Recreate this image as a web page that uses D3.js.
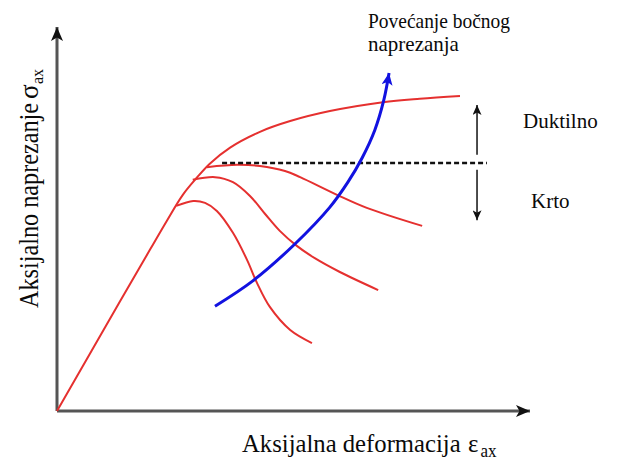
<!DOCTYPE html>
<html>
<head>
<meta charset="utf-8">
<script src="https://cdn.jsdelivr.net/npm/d3@7"></script>
<style>
  body { margin: 0; background: #fff; }
  text { font-family: "Liberation Serif", "Times New Roman", serif; fill: #0a0a0a; }
</style>
</head>
<body>
<svg width="627" height="463"></svg>
<script>
const svg = d3.select('svg');

// axial strain (x) vs axial stress (y), arbitrary units 0..10
const envelope = [[0, 0], [1.33, 2.85], [1.97, 4.21], [2.33, 4.97], [2.66, 5.63], [2.96, 6.08],
    [3.23, 6.44], [3.66, 6.86], [4.29, 7.27], [4.93, 7.55], [5.77, 7.81], [6.89, 8.04],
    [7.67, 8.13], [8.52, 8.20]];
const branchTop = [[3.17, 6.35], [3.81, 6.41], [4.29, 6.38], [4.82, 6.25], [5.14, 6.09],
    [5.92, 5.63], [6.55, 5.29], [7.72, 4.82]];
const branchMid = [[2.87, 6.02], [3.34, 6.09], [3.72, 5.96], [4.08, 5.60], [4.40, 5.13],
    [4.71, 4.69], [5.07, 4.30], [5.45, 3.98], [5.98, 3.62], [6.79, 3.15]];
const branchLow = [[2.52, 5.34], [2.88, 5.47], [3.13, 5.42], [3.38, 5.21], [3.72, 4.64],
    [4.02, 3.93], [4.23, 3.33], [4.50, 2.71], [4.93, 2.11], [5.39, 1.77]];
const confining = [[3.34, 2.73], [4.14, 3.39], [5.03, 4.35], [5.77, 5.31], [6.15, 5.96],
    [6.45, 6.59], [6.72, 7.32], [6.91, 8.10], [7.02, 8.80]];
const transitionLevel = 6.46;
const transitionFrom = [3.49, 9.09];
const arrowX = 8.88;
const ductileArrow = [6.67, 7.97];
const brittleArrow = [6.28, 4.97];

const x = d3.scaleLinear().domain([0, 10]).range([57, 530]);
const y = d3.scaleLinear().domain([0, 10]).range([411, 27]);

const defs = svg.append('defs');
const marker = (id, color, w, h) => defs.append('marker')
    .attr('id', id)
    .attr('viewBox', `0 ${-h / 2} ${w} ${h}`)
    .attr('refX', w).attr('refY', 0)
    .attr('markerWidth', w).attr('markerHeight', h)
    .attr('markerUnits', 'userSpaceOnUse')
    .attr('orient', 'auto')
  .append('path')
    .attr('d', `M0,${-h / 2}L${w},0L0,${h / 2}L${w * 0.25},0Z`)
    .attr('fill', color);

marker('axisHead', '#111', 14, 12);
marker('smallHead', '#111', 10, 9);
marker('blueHead', '#1212e0', 12, 11);

// axes
svg.append('line')
    .attr('x1', x(0)).attr('y1', y(0)).attr('x2', x(0)).attr('y2', y(10))
    .attr('stroke', '#555').attr('stroke-width', 3)
    .attr('marker-end', 'url(#axisHead)');
svg.append('line')
    .attr('x1', x(0)).attr('y1', y(0)).attr('x2', x(10)).attr('y2', y(0))
    .attr('stroke', '#555').attr('stroke-width', 3)
    .attr('marker-end', 'url(#axisHead)');

const line = d3.line()
    .x(d => x(d[0]))
    .y(d => y(d[1]))
    .curve(d3.curveCatmullRom.alpha(0.5));

svg.selectAll('path.red')
    .data([envelope, branchTop, branchMid, branchLow])
    .enter().append('path')
        .attr('class', 'red')
        .attr('d', line)
        .attr('fill', 'none')
        .attr('stroke', '#e5302f')
        .attr('stroke-width', 2);

// brittle / ductile transition
svg.append('line')
    .attr('x1', x(transitionFrom[0])).attr('x2', x(transitionFrom[1]))
    .attr('y1', y(transitionLevel)).attr('y2', y(transitionLevel))
    .attr('stroke', '#111').attr('stroke-width', 2.5)
    .attr('stroke-dasharray', '5,3');

svg.append('path')
    .attr('d', line(confining))
    .attr('fill', 'none')
    .attr('stroke', '#1212e0')
    .attr('stroke-width', 3)
    .attr('marker-end', 'url(#blueHead)');

[ductileArrow, brittleArrow].forEach(a => {
    svg.append('line')
        .attr('x1', x(arrowX)).attr('x2', x(arrowX))
        .attr('y1', y(a[0])).attr('y2', y(a[1]))
        .attr('stroke', '#111').attr('stroke-width', 1.5)
        .attr('marker-end', 'url(#smallHead)');
});

// labels
const label = (txt, px, py, size, len) => {
    const t = svg.append('text')
        .attr('x', px).attr('y', py)
        .attr('font-size', size)
        .text(txt);
    if (len) t.attr('textLength', len).attr('lengthAdjust', 'spacingAndGlyphs');
    return t;
};

label('Povećanje bočnog', 368, 28, 21, 142);
label('naprezanja', 368, 51, 21);
label('Duktilno', 523, 128, 21);
label('Krto', 531, 208, 21);

// x axis title, narrowed like the original
const xl = svg.append('g').attr('transform', 'translate(242,452) scale(0.95,1)')
  .append('text').attr('font-size', 26);
xl.append('tspan').text('Aksijalna deformacija');
xl.append('tspan').attr('x', 238).text('ε');
xl.append('tspan').attr('x', 251).attr('dy', 5).attr('font-size', 18).text('ax');

const yl = svg.append('g').attr('transform', 'translate(38,308) rotate(-90)');
yl.append('text').attr('font-size', 27)
    .attr('textLength', 205).attr('lengthAdjust', 'spacingAndGlyphs')
    .text('Aksijalno naprezanje');
yl.append('text').attr('x', 209).attr('font-size', 27).text('σ');
yl.append('text').attr('x', 224).attr('y', 5).attr('font-size', 16).text('ax');
</script>
</body>
</html>
